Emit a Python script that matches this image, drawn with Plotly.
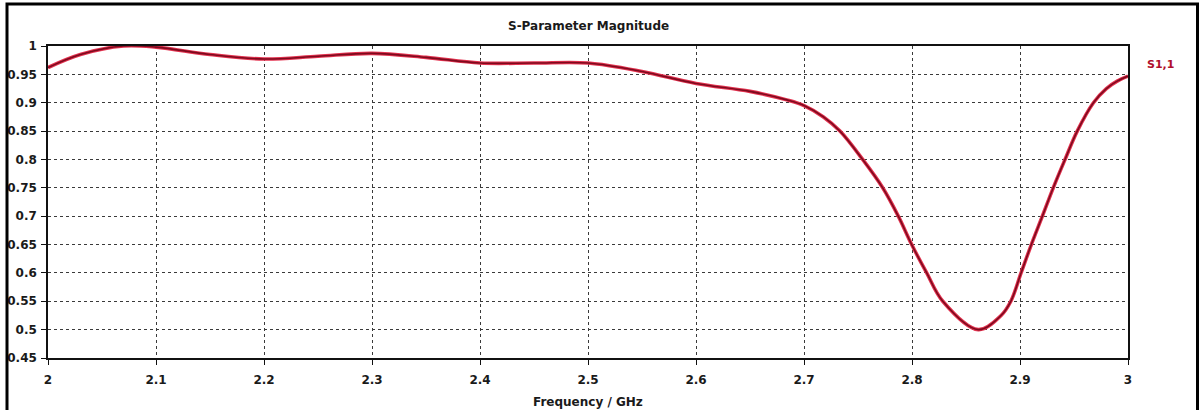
import plotly.graph_objects as go

# Data
freq_ghz = [2.0, 2.03, 2.07, 2.1, 2.15, 2.2, 2.25, 2.3, 2.35, 2.4, 2.45, 2.5,
            2.55, 2.6, 2.65, 2.684, 2.7, 2.718, 2.7333, 2.7543, 2.7729, 2.7873,
            2.7997, 2.8136, 2.8285, 2.8614, 2.8825, 2.8915, 2.9010, 2.9105,
            2.9207, 2.9308, 2.9417, 2.953, 2.968, 2.98, 2.99, 3.0]
s11_mag = [0.962, 0.985, 1.0, 0.998, 0.985, 0.977, 0.982, 0.987, 0.980, 0.970,
           0.970, 0.970, 0.955, 0.934, 0.920, 0.905, 0.895, 0.875, 0.85, 0.80,
           0.75, 0.70, 0.65, 0.60, 0.55, 0.500, 0.525, 0.55, 0.60, 0.65,
           0.70, 0.75, 0.80, 0.85, 0.90, 0.925, 0.938, 0.947]

x_ticks = [2, 2.1, 2.2, 2.3, 2.4, 2.5, 2.6, 2.7, 2.8, 2.9, 3]
y_ticks = [0.45, 0.5, 0.55, 0.6, 0.65, 0.7, 0.75, 0.8, 0.85, 0.9, 0.95, 1]

title_text = "S-Parameter Magnitude"
x_title = "Frequency / GHz"
series_name = "S1,1"

W, H = 1204, 410
L, R, T, B = 48, 76, 46, 52
pw, ph = W - L - R, H - T - B

def px_x(px):
    return (px - L) / pw

def px_y(py):
    return (H - B - py) / ph

fig = go.Figure()
fig.add_trace(go.Scatter(x=freq_ghz, y=s11_mag, mode="lines",
                         line=dict(color="#e3324f", width=3.6, shape="spline", smoothing=1.0),
                         hoverinfo="skip", showlegend=False))
fig.add_trace(go.Scatter(x=freq_ghz, y=s11_mag, mode="lines", name=series_name,
                         line=dict(color="#7e0a1e", width=1.6, shape="spline", smoothing=1.0),
                         showlegend=False))

tick_font = dict(family="DejaVu Sans", size=12, color="#1a1a1a", weight=700)
axis_common = dict(showline=True, linecolor="#111", linewidth=1.5, mirror=True,
                   showgrid=True, gridcolor="#3a3a3a", griddash="dot", gridwidth=1,
                   ticks="outside", ticklen=5, tickcolor="#111", zeroline=False,
                   tickfont=tick_font, automargin=False)

fig.update_xaxes(range=[2, 3], tickvals=x_ticks, ticklabelstandoff=5, **axis_common)
fig.update_yaxes(range=[0.45, 1], tickvals=y_ticks, ticklabelstandoff=2, **axis_common)

text_font = dict(family="DejaVu Sans", size=12, color="#1a1a1a", weight=700)
fig.add_annotation(text=title_text, xref="paper", yref="paper",
                   x=px_x(588), y=px_y(26), xanchor="center", yanchor="middle",
                   showarrow=False, font=text_font)
fig.add_annotation(text=x_title, xref="paper", yref="paper",
                   x=px_x(588), y=px_y(402), xanchor="center", yanchor="middle",
                   showarrow=False, font=text_font)
fig.add_annotation(text=series_name, xref="paper", yref="paper",
                   x=px_x(1160), y=px_y(64), xanchor="center", yanchor="middle",
                   showarrow=False,
                   font=dict(family="DejaVu Sans", size=11, color="#b0102c", weight=700))

fig.add_shape(type="rect", xref="paper", yref="paper",
              x0=px_x(7), x1=px_x(1197.5), y0=px_y(415), y1=px_y(4),
              line=dict(color="black", width=3), fillcolor="rgba(0,0,0,0)", layer="above")

fig.update_layout(width=W, height=H, margin=dict(l=L, r=R, t=T, b=B),
                  paper_bgcolor="white", plot_bgcolor="white")

fig.write_html("out.html")
